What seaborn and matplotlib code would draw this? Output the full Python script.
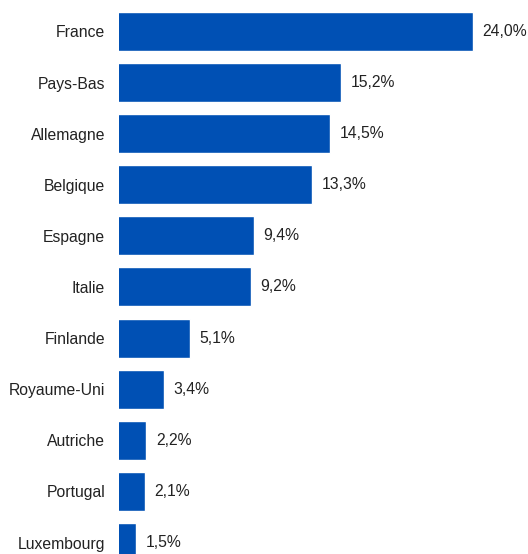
import matplotlib
matplotlib.use("Agg")
import matplotlib.pyplot as plt
import seaborn as sns
import pandas as pd

countries = ["France", "Pays-Bas", "Allemagne", "Belgique", "Espagne", "Italie",
             "Finlande", "Royaume-Uni", "Autriche", "Portugal", "Luxembourg"]
values = [24.0, 15.2, 14.5, 13.3, 9.4, 9.2, 5.1, 3.4, 2.2, 2.1, 1.5]
value_labels = ["24,0%", "15,2%", "14,5%", "13,3%", "9,4%", "9,2%",
                "5,1%", "3,4%", "2,2%", "2,1%", "1,5%"]

sns.set_style("white")
plt.rcParams["font.family"] = ["Liberation Sans", "DejaVu Sans"]

df = pd.DataFrame({"pays": countries, "val": values})

fig = plt.figure(figsize=(5.28, 5.54), dpi=100)
ax = fig.add_axes([119 / 528, 0, 1 - 119 / 528, 1])
sns.barplot(data=df, y="pays", x="val", orient="h", color="#0050B4",
            saturation=1, width=0.763, ax=ax)

for i, (v, lab) in enumerate(zip(values, value_labels)):
    ax.annotate(lab, xy=(v, i), xytext=(7, 0), textcoords="offset points",
                ha="left", va="center", fontsize=11.3, color="#222222")

ax.set_xlim(0.39, 27.7)
ax.set_ylim(10.225, -0.616)
ax.set_xlabel("")
ax.set_ylabel("")
ax.set_xticks([])
ax.tick_params(axis="y", length=0, pad=10, labelsize=11.3, labelcolor="#222222")
for s in ax.spines.values():
    s.set_visible(False)

fig.savefig("out.png", dpi=100)
